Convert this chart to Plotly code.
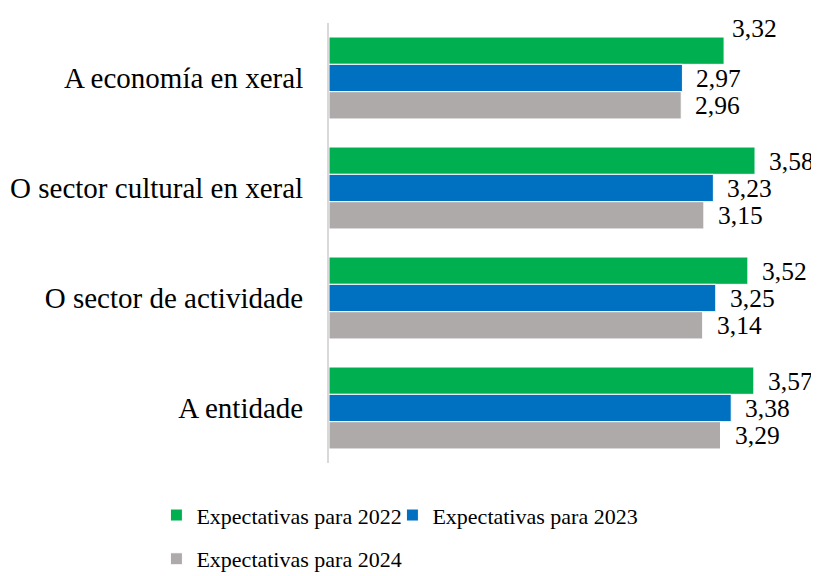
import plotly.graph_objects as go

categories = ["A economía en xeral", "O sector cultural en xeral",
              "O sector de actividade", "A entidade"]
series_names = ["Expectativas para 2022", "Expectativas para 2023", "Expectativas para 2024"]
exp_2022 = [3.32, 3.58, 3.52, 3.57]
exp_2023 = [2.97, 3.23, 3.25, 3.38]
exp_2024 = [2.96, 3.15, 3.14, 3.29]

colors = ["#00b050", "#0070c0", "#aeaaaa"]
FONT = "Liberation Serif"

fig = go.Figure()
all_values = [exp_2022, exp_2023, exp_2024]
legends = ["legend", "legend2", "legend3"]
for name, vals, col, lg in zip(series_names, all_values, colors, legends):
    fig.add_trace(go.Bar(
        y=categories, x=vals, name=name, orientation="h",
        marker=dict(color=col, line=dict(color="white", width=1)),
        legend=lg, hoverinfo="x+y",
    ))

# value labels, placed to the right of each bar
bar_px = 27
for i, vals in enumerate(all_values):
    for cat, v in zip(categories, vals):
        xs, ys = 12, (1 - i) * bar_px
        # the first label sits raised above its bar end in the original
        if i == 0 and cat == categories[0]:
            xs, ys = 6, ys + 23
        fig.add_annotation(
            x=v, y=cat, text=f"{v:.2f}".replace(".", ","),
            showarrow=False, xanchor="left", yanchor="middle",
            xshift=xs, yshift=ys,
            font=dict(family=FONT, size=25.5, color="#000000"),
        )

# page body has an 8px margin, so the figure is a bit smaller than the window
leg = dict(orientation="h", xref="container", yref="container",
           xanchor="left", yanchor="middle", itemwidth=30,
           font=dict(family=FONT, size=22, color="#000000"),
           bgcolor="rgba(0,0,0,0)")
fig.update_layout(
    width=811, height=568,
    margin=dict(l=321, r=14, t=15, b=113, autoexpand=False),
    paper_bgcolor="white", plot_bgcolor="white",
    barmode="group", bargap=0.255, bargroupgap=0,
    font=dict(family=FONT, size=28.5, color="#000000"),
    showlegend=True,
    legend=dict(leg, x=0.183, y=0.107),
    legend2=dict(leg, x=0.474, y=0.107),
    legend3=dict(leg, x=0.183, y=0.030),
)
fig.update_xaxes(range=[0, 4], showgrid=False, showticklabels=False,
                 zeroline=False, showline=False, fixedrange=True)
fig.update_yaxes(autorange="reversed", showline=True, linecolor="#d9d9d9",
                 linewidth=2, ticks="", ticklabelstandoff=18,
                 tickfont=dict(family=FONT, size=29, color="#000000"))

fig.write_html("out.html")
